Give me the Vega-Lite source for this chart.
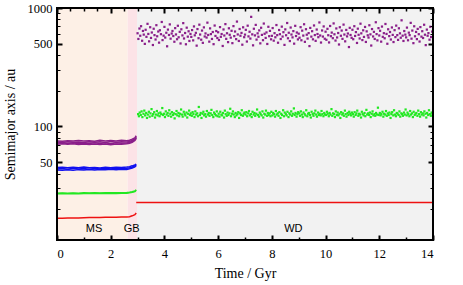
{
  "$schema": "https://vega.github.io/schema/vega-lite/v6.json",
  "width": 376,
  "height": 232,
  "autosize": {"type": "none"},
  "padding": {"left": 57, "top": 8, "right": 30, "bottom": 45},
  "background": "white",
  "config": {
    "view": {"stroke": null},
    "axis": {"domain": false, "grid": false, "ticks": true, "tickColor": "black", "labelColor": "black", "labelFont": "Liberation Serif", "labelFontSize": 12.5, "titleFont": "Liberation Serif", "titleFontSize": 14, "titleFontWeight": "normal", "titleColor": "black"}
  },
  "resolve": {"axis": {"x": "independent", "y": "independent"}, "scale": {"color": "independent"}},
  "datasets": {
    "phases": [
      {"phase": "MS", "t0": 0, "t1": 2.63},
      {"phase": "GB", "t0": 2.63, "t1": 2.98},
      {"phase": "WD", "t0": 2.98, "t1": 14}
    ],
    "labels": [
      {"t": 1.38, "a": 13.6, "l": "MS"},
      {"t": 2.78, "a": 13.6, "l": "GB"},
      {"t": 8.8, "a": 13.6, "l": "WD"}
    ],
    "wdred": [{"t": 2.95, "a": 22.8}, {"t": 14, "a": 22.8}],
    "ms": [
      {"o":"o4","k":"p1","t":0,"a":73.8},{"o":"o4","k":"p1","t":0.2,"a":73.2},{"o":"o4","k":"p1","t":0.4,"a":74.3},{"o":"o4","k":"p1","t":0.6,"a":73.5},{"o":"o4","k":"p1","t":0.8,"a":74.0},{"o":"o4","k":"p1","t":1.0,"a":73.1},{"o":"o4","k":"p1","t":1.2,"a":74.4},{"o":"o4","k":"p1","t":1.4,"a":73.6},{"o":"o4","k":"p1","t":1.6,"a":74.2},{"o":"o4","k":"p1","t":1.8,"a":73.3},{"o":"o4","k":"p1","t":2.0,"a":74.5},{"o":"o4","k":"p1","t":2.2,"a":73.7},{"o":"o4","k":"p1","t":2.4,"a":74.1},{"o":"o4","k":"p1","t":2.6,"a":73.9},{"o":"o4","k":"p1","t":2.7,"a":74.6},{"o":"o4","k":"p1","t":2.8,"a":76.0},{"o":"o4","k":"p1","t":2.9,"a":78.5},{"o":"o4","k":"p1","t":2.95,"a":82.0},
      {"o":"o4","k":"p2","t":0,"a":72.0},{"o":"o4","k":"p2","t":0.2,"a":72.7},{"o":"o4","k":"p2","t":0.4,"a":71.8},{"o":"o4","k":"p2","t":0.6,"a":72.9},{"o":"o4","k":"p2","t":0.8,"a":71.6},{"o":"o4","k":"p2","t":1.0,"a":72.6},{"o":"o4","k":"p2","t":1.2,"a":71.9},{"o":"o4","k":"p2","t":1.4,"a":73.0},{"o":"o4","k":"p2","t":1.6,"a":71.7},{"o":"o4","k":"p2","t":1.8,"a":72.8},{"o":"o4","k":"p2","t":2.0,"a":71.5},{"o":"o4","k":"p2","t":2.2,"a":72.9},{"o":"o4","k":"p2","t":2.4,"a":72.2},{"o":"o4","k":"p2","t":2.6,"a":72.6},{"o":"o4","k":"p2","t":2.7,"a":73.2},{"o":"o4","k":"p2","t":2.8,"a":74.8},{"o":"o4","k":"p2","t":2.9,"a":77.2},{"o":"o4","k":"p2","t":2.95,"a":80.5},
      {"o":"o4","k":"p3","t":0,"a":75.4},{"o":"o4","k":"p3","t":0.2,"a":75.0},{"o":"o4","k":"p3","t":0.4,"a":75.9},{"o":"o4","k":"p3","t":0.6,"a":75.2},{"o":"o4","k":"p3","t":0.8,"a":76.1},{"o":"o4","k":"p3","t":1.0,"a":75.3},{"o":"o4","k":"p3","t":1.2,"a":75.8},{"o":"o4","k":"p3","t":1.4,"a":75.1},{"o":"o4","k":"p3","t":1.6,"a":76.3},{"o":"o4","k":"p3","t":1.8,"a":75.5},{"o":"o4","k":"p3","t":2.0,"a":76.0},{"o":"o4","k":"p3","t":2.2,"a":75.2},{"o":"o4","k":"p3","t":2.4,"a":76.4},{"o":"o4","k":"p3","t":2.6,"a":75.8},{"o":"o4","k":"p3","t":2.7,"a":76.5},{"o":"o4","k":"p3","t":2.8,"a":78.0},{"o":"o4","k":"p3","t":2.9,"a":80.2},{"o":"o4","k":"p3","t":2.95,"a":83.5},
      {"o":"o4","k":"p4","t":0,"a":70.9},{"o":"o4","k":"p4","t":0.2,"a":71.4},{"o":"o4","k":"p4","t":0.4,"a":70.7},{"o":"o4","k":"p4","t":0.6,"a":71.3},{"o":"o4","k":"p4","t":0.8,"a":70.5},{"o":"o4","k":"p4","t":1.0,"a":71.2},{"o":"o4","k":"p4","t":1.2,"a":70.4},{"o":"o4","k":"p4","t":1.4,"a":71.1},{"o":"o4","k":"p4","t":1.6,"a":70.3},{"o":"o4","k":"p4","t":1.8,"a":71.2},{"o":"o4","k":"p4","t":2.0,"a":70.2},{"o":"o4","k":"p4","t":2.2,"a":71.0},{"o":"o4","k":"p4","t":2.4,"a":70.6},{"o":"o4","k":"p4","t":2.6,"a":71.3},{"o":"o4","k":"p4","t":2.7,"a":72.0},{"o":"o4","k":"p4","t":2.8,"a":73.6},{"o":"o4","k":"p4","t":2.9,"a":76.2},{"o":"o4","k":"p4","t":2.95,"a":79.5},
      {"o":"o3","k":"b1","t":0,"a":43.8},{"o":"o3","k":"b1","t":0.2,"a":44.2},{"o":"o3","k":"b1","t":0.4,"a":43.6},{"o":"o3","k":"b1","t":0.6,"a":44.3},{"o":"o3","k":"b1","t":0.8,"a":43.7},{"o":"o3","k":"b1","t":1.0,"a":44.1},{"o":"o3","k":"b1","t":1.2,"a":43.5},{"o":"o3","k":"b1","t":1.4,"a":44.2},{"o":"o3","k":"b1","t":1.6,"a":43.8},{"o":"o3","k":"b1","t":1.8,"a":44.4},{"o":"o3","k":"b1","t":2.0,"a":43.7},{"o":"o3","k":"b1","t":2.2,"a":44.3},{"o":"o3","k":"b1","t":2.4,"a":43.9},{"o":"o3","k":"b1","t":2.6,"a":44.4},{"o":"o3","k":"b1","t":2.7,"a":44.8},{"o":"o3","k":"b1","t":2.8,"a":45.5},{"o":"o3","k":"b1","t":2.9,"a":46.4},{"o":"o3","k":"b1","t":2.95,"a":47.5},
      {"o":"o3","k":"b2","t":0,"a":42.9},{"o":"o3","k":"b2","t":0.2,"a":42.6},{"o":"o3","k":"b2","t":0.4,"a":43.1},{"o":"o3","k":"b2","t":0.6,"a":42.7},{"o":"o3","k":"b2","t":0.8,"a":43.2},{"o":"o3","k":"b2","t":1.0,"a":42.8},{"o":"o3","k":"b2","t":1.2,"a":43.3},{"o":"o3","k":"b2","t":1.4,"a":42.9},{"o":"o3","k":"b2","t":1.6,"a":43.4},{"o":"o3","k":"b2","t":1.8,"a":43.0},{"o":"o3","k":"b2","t":2.0,"a":43.5},{"o":"o3","k":"b2","t":2.2,"a":43.1},{"o":"o3","k":"b2","t":2.4,"a":43.6},{"o":"o3","k":"b2","t":2.6,"a":43.4},{"o":"o3","k":"b2","t":2.7,"a":43.9},{"o":"o3","k":"b2","t":2.8,"a":44.6},{"o":"o3","k":"b2","t":2.9,"a":45.6},{"o":"o3","k":"b2","t":2.95,"a":46.8},
      {"o":"o3","k":"b3","t":0,"a":45.0},{"o":"o3","k":"b3","t":0.2,"a":45.3},{"o":"o3","k":"b3","t":0.4,"a":44.8},{"o":"o3","k":"b3","t":0.6,"a":45.2},{"o":"o3","k":"b3","t":0.8,"a":44.9},{"o":"o3","k":"b3","t":1.0,"a":45.4},{"o":"o3","k":"b3","t":1.2,"a":44.9},{"o":"o3","k":"b3","t":1.4,"a":45.1},{"o":"o3","k":"b3","t":1.6,"a":44.7},{"o":"o3","k":"b3","t":1.8,"a":45.2},{"o":"o3","k":"b3","t":2.0,"a":44.8},{"o":"o3","k":"b3","t":2.2,"a":45.3},{"o":"o3","k":"b3","t":2.4,"a":45.0},{"o":"o3","k":"b3","t":2.6,"a":45.4},{"o":"o3","k":"b3","t":2.7,"a":45.8},{"o":"o3","k":"b3","t":2.8,"a":46.5},{"o":"o3","k":"b3","t":2.9,"a":47.3},{"o":"o3","k":"b3","t":2.95,"a":48.2},
      {"o":"o2","k":"g1","t":0,"a":27.3},{"o":"o2","k":"g1","t":0.2,"a":27.4},{"o":"o2","k":"g1","t":0.4,"a":27.3},{"o":"o2","k":"g1","t":0.6,"a":27.4},{"o":"o2","k":"g1","t":0.8,"a":27.3},{"o":"o2","k":"g1","t":1.0,"a":27.5},{"o":"o2","k":"g1","t":1.2,"a":27.4},{"o":"o2","k":"g1","t":1.4,"a":27.5},{"o":"o2","k":"g1","t":1.6,"a":27.4},{"o":"o2","k":"g1","t":1.8,"a":27.5},{"o":"o2","k":"g1","t":2.0,"a":27.5},{"o":"o2","k":"g1","t":2.2,"a":27.6},{"o":"o2","k":"g1","t":2.4,"a":27.6},{"o":"o2","k":"g1","t":2.6,"a":27.7},{"o":"o2","k":"g1","t":2.7,"a":27.8},{"o":"o2","k":"g1","t":2.8,"a":28.1},{"o":"o2","k":"g1","t":2.9,"a":28.5},{"o":"o2","k":"g1","t":2.95,"a":29.2},
      {"o":"o2","k":"g2","t":0,"a":27.0},{"o":"o2","k":"g2","t":0.2,"a":27.1},{"o":"o2","k":"g2","t":0.4,"a":27.0},{"o":"o2","k":"g2","t":0.6,"a":27.1},{"o":"o2","k":"g2","t":0.8,"a":27.0},{"o":"o2","k":"g2","t":1.0,"a":27.1},{"o":"o2","k":"g2","t":1.2,"a":27.1},{"o":"o2","k":"g2","t":1.4,"a":27.2},{"o":"o2","k":"g2","t":1.6,"a":27.1},{"o":"o2","k":"g2","t":1.8,"a":27.2},{"o":"o2","k":"g2","t":2.0,"a":27.2},{"o":"o2","k":"g2","t":2.2,"a":27.2},{"o":"o2","k":"g2","t":2.4,"a":27.3},{"o":"o2","k":"g2","t":2.6,"a":27.3},{"o":"o2","k":"g2","t":2.7,"a":27.5},{"o":"o2","k":"g2","t":2.8,"a":27.8},{"o":"o2","k":"g2","t":2.9,"a":28.2},{"o":"o2","k":"g2","t":2.95,"a":28.9},
      {"o":"o1","k":"r1","t":0,"a":16.8},{"o":"o1","k":"r1","t":0.2,"a":16.8},{"o":"o1","k":"r1","t":0.4,"a":16.85},{"o":"o1","k":"r1","t":0.6,"a":16.9},{"o":"o1","k":"r1","t":0.8,"a":16.9},{"o":"o1","k":"r1","t":1.0,"a":16.95},{"o":"o1","k":"r1","t":1.2,"a":17.0},{"o":"o1","k":"r1","t":1.4,"a":17.0},{"o":"o1","k":"r1","t":1.6,"a":17.05},{"o":"o1","k":"r1","t":1.8,"a":17.1},{"o":"o1","k":"r1","t":2.0,"a":17.1},{"o":"o1","k":"r1","t":2.2,"a":17.15},{"o":"o1","k":"r1","t":2.4,"a":17.2},{"o":"o1","k":"r1","t":2.6,"a":17.2},{"o":"o1","k":"r1","t":2.7,"a":17.3},{"o":"o1","k":"r1","t":2.8,"a":17.6},{"o":"o1","k":"r1","t":2.9,"a":18.0},{"o":"o1","k":"r1","t":2.95,"a":18.6}
    ],
    "purple": [
      {"t":3.00,"a":612},{"t":3.03,"a":548},{"t":3.07,"a":671},{"t":3.10,"a":583},{"t":3.13,"a":702},{"t":3.17,"a":529},{"t":3.20,"a":640},{"t":3.23,"a":596},{"t":3.27,"a":498},{"t":3.30,"a":655},{"t":3.33,"a":571},{"t":3.37,"a":735},{"t":3.40,"a":604},{"t":3.43,"a":523},{"t":3.47,"a":688},{"t":3.50,"a":559},{"t":3.53,"a":621},{"t":3.57,"a":487},{"t":3.60,"a":668},{"t":3.63,"a":590},{"t":3.67,"a":542},{"t":3.70,"a":716},{"t":3.73,"a":577},{"t":3.77,"a":633},{"t":3.80,"a":510},{"t":3.83,"a":649},{"t":3.87,"a":601},{"t":3.90,"a":762},{"t":3.93,"a":536},{"t":3.97,"a":584},
      {"t":4.00,"a":693},{"t":4.03,"a":563},{"t":4.07,"a":618},{"t":4.10,"a":475},{"t":4.13,"a":657},{"t":4.17,"a":592},{"t":4.20,"a":727},{"t":4.23,"a":551},{"t":4.27,"a":609},{"t":4.30,"a":640},{"t":4.33,"a":580},{"t":4.37,"a":519},{"t":4.40,"a":676},{"t":4.43,"a":598},{"t":4.47,"a":545},{"t":4.50,"a":708},{"t":4.53,"a":566},{"t":4.57,"a":629},{"t":4.60,"a":502},{"t":4.63,"a":661},{"t":4.67,"a":587},{"t":4.70,"a":745},{"t":4.73,"a":553},{"t":4.77,"a":615},{"t":4.80,"a":494},{"t":4.83,"a":682},{"t":4.87,"a":573},{"t":4.90,"a":636},{"t":4.93,"a":527},{"t":4.97,"a":604},
      {"t":5.00,"a":570},{"t":5.03,"a":651},{"t":5.07,"a":533},{"t":5.10,"a":699},{"t":5.13,"a":588},{"t":5.17,"a":617},{"t":5.20,"a":481},{"t":5.23,"a":664},{"t":5.27,"a":556},{"t":5.30,"a":723},{"t":5.33,"a":597},{"t":5.37,"a":540},{"t":5.40,"a":645},{"t":5.43,"a":508},{"t":5.47,"a":686},{"t":5.50,"a":575},{"t":5.53,"a":610},{"t":5.57,"a":563},{"t":5.60,"a":752},{"t":5.63,"a":592},{"t":5.67,"a":520},{"t":5.70,"a":673},{"t":5.73,"a":602},{"t":5.77,"a":548},{"t":5.80,"a":627},{"t":5.83,"a":495},{"t":5.87,"a":711},{"t":5.90,"a":581},{"t":5.93,"a":639},{"t":5.97,"a":558},
      {"t":6.00,"a":624},{"t":6.03,"a":537},{"t":6.07,"a":690},{"t":6.10,"a":571},{"t":6.13,"a":603},{"t":6.17,"a":478},{"t":6.20,"a":659},{"t":6.23,"a":586},{"t":6.27,"a":731},{"t":6.30,"a":549},{"t":6.33,"a":612},{"t":6.37,"a":515},{"t":6.40,"a":674},{"t":6.43,"a":594},{"t":6.47,"a":562},{"t":6.50,"a":642},{"t":6.53,"a":505},{"t":6.57,"a":703},{"t":6.60,"a":579},{"t":6.63,"a":633},{"t":6.67,"a":546},{"t":6.70,"a":768},{"t":6.73,"a":598},{"t":6.77,"a":527},{"t":6.80,"a":665},{"t":6.83,"a":583},{"t":6.87,"a":616},{"t":6.90,"a":490},{"t":6.93,"a":687},{"t":6.97,"a":567},
      {"t":7.00,"a":596},{"t":7.03,"a":654},{"t":7.07,"a":521},{"t":7.10,"a":709},{"t":7.13,"a":576},{"t":7.17,"a":630},{"t":7.20,"a":552},{"t":7.23,"a":842},{"t":7.27,"a":599},{"t":7.30,"a":484},{"t":7.33,"a":668},{"t":7.37,"a":587},{"t":7.40,"a":720},{"t":7.43,"a":541},{"t":7.47,"a":611},{"t":7.50,"a":572},{"t":7.53,"a":647},{"t":7.57,"a":503},{"t":7.60,"a":681},{"t":7.63,"a":593},{"t":7.67,"a":535},{"t":7.70,"a":739},{"t":7.73,"a":606},{"t":7.77,"a":559},{"t":7.80,"a":622},{"t":7.83,"a":497},{"t":7.87,"a":694},{"t":7.90,"a":578},{"t":7.93,"a":641},{"t":7.97,"a":544},
      {"t":8.00,"a":582},{"t":8.03,"a":677},{"t":8.07,"a":530},{"t":8.10,"a":613},{"t":8.13,"a":566},{"t":8.17,"a":718},{"t":8.20,"a":590},{"t":8.23,"a":509},{"t":8.27,"a":652},{"t":8.30,"a":601},{"t":8.33,"a":547},{"t":8.37,"a":696},{"t":8.40,"a":574},{"t":8.43,"a":625},{"t":8.47,"a":488},{"t":8.50,"a":660},{"t":8.53,"a":589},{"t":8.57,"a":747},{"t":8.60,"a":555},{"t":8.63,"a":618},{"t":8.67,"a":526},{"t":8.70,"a":684},{"t":8.73,"a":597},{"t":8.77,"a":565},{"t":8.80,"a":638},{"t":8.83,"a":500},{"t":8.87,"a":707},{"t":8.90,"a":580},{"t":8.93,"a":621},{"t":8.97,"a":543},
      {"t":9.00,"a":607},{"t":9.03,"a":561},{"t":9.07,"a":689},{"t":9.10,"a":534},{"t":9.13,"a":644},{"t":9.17,"a":585},{"t":9.20,"a":729},{"t":9.23,"a":518},{"t":9.27,"a":662},{"t":9.30,"a":595},{"t":9.33,"a":552},{"t":9.37,"a":614},{"t":9.40,"a":477},{"t":9.43,"a":679},{"t":9.47,"a":573},{"t":9.50,"a":637},{"t":9.53,"a":544},{"t":9.57,"a":712},{"t":9.60,"a":591},{"t":9.63,"a":528},{"t":9.67,"a":658},{"t":9.70,"a":603},{"t":9.73,"a":567},{"t":9.77,"a":755},{"t":9.80,"a":586},{"t":9.83,"a":511},{"t":9.87,"a":646},{"t":9.90,"a":574},{"t":9.93,"a":699},{"t":9.97,"a":550},
      {"t":10.00,"a":631},{"t":10.03,"a":539},{"t":10.07,"a":667},{"t":10.10,"a":589},{"t":10.13,"a":512},{"t":10.17,"a":705},{"t":10.20,"a":578},{"t":10.23,"a":620},{"t":10.27,"a":556},{"t":10.30,"a":741},{"t":10.33,"a":600},{"t":10.37,"a":531},{"t":10.40,"a":672},{"t":10.43,"a":564},{"t":10.47,"a":615},{"t":10.50,"a":492},{"t":10.53,"a":688},{"t":10.57,"a":583},{"t":10.60,"a":645},{"t":10.63,"a":549},{"t":10.67,"a":724},{"t":10.70,"a":597},{"t":10.73,"a":523},{"t":10.77,"a":653},{"t":10.80,"a":576},{"t":10.83,"a":609},{"t":10.87,"a":468},{"t":10.90,"a":680},{"t":10.93,"a":592},{"t":10.97,"a":560},
      {"t":11.00,"a":655},{"t":11.03,"a":545},{"t":11.07,"a":702},{"t":11.10,"a":581},{"t":11.13,"a":626},{"t":11.17,"a":507},{"t":11.20,"a":669},{"t":11.23,"a":594},{"t":11.27,"a":553},{"t":11.30,"a":737},{"t":11.33,"a":611},{"t":11.37,"a":536},{"t":11.40,"a":648},{"t":11.43,"a":570},{"t":11.47,"a":692},{"t":11.50,"a":517},{"t":11.53,"a":635},{"t":11.57,"a":588},{"t":11.60,"a":563},{"t":11.63,"a":715},{"t":11.67,"a":599},{"t":11.70,"a":482},{"t":11.73,"a":664},{"t":11.77,"a":575},{"t":11.80,"a":629},{"t":11.83,"a":548},{"t":11.87,"a":758},{"t":11.90,"a":602},{"t":11.93,"a":533},{"t":11.97,"a":676},
      {"t":12.00,"a":586},{"t":12.03,"a":642},{"t":12.07,"a":520},{"t":12.10,"a":697},{"t":12.13,"a":571},{"t":12.17,"a":613},{"t":12.20,"a":555},{"t":12.23,"a":733},{"t":12.27,"a":604},{"t":12.30,"a":499},{"t":12.33,"a":661},{"t":12.37,"a":579},{"t":12.40,"a":627},{"t":12.43,"a":542},{"t":12.47,"a":685},{"t":12.50,"a":593},{"t":12.53,"a":516},{"t":12.57,"a":650},{"t":12.60,"a":568},{"t":12.63,"a":710},{"t":12.67,"a":590},{"t":12.70,"a":538},{"t":12.73,"a":674},{"t":12.77,"a":611},{"t":12.80,"a":561},{"t":12.83,"a":787},{"t":12.87,"a":584},{"t":12.90,"a":527},{"t":12.93,"a":639},{"t":12.97,"a":596},
      {"t":13.00,"a":565},{"t":13.03,"a":683},{"t":13.07,"a":534},{"t":13.10,"a":619},{"t":13.13,"a":590},{"t":13.17,"a":749},{"t":13.20,"a":551},{"t":13.23,"a":645},{"t":13.27,"a":505},{"t":13.30,"a":701},{"t":13.33,"a":577},{"t":13.37,"a":628},{"t":13.40,"a":546},{"t":13.43,"a":666},{"t":13.47,"a":601},{"t":13.50,"a":521},{"t":13.53,"a":690},{"t":13.57,"a":573},{"t":13.60,"a":637},{"t":13.63,"a":558},{"t":13.67,"a":722},{"t":13.70,"a":595},{"t":13.73,"a":486},{"t":13.77,"a":657},{"t":13.80,"a":583},{"t":13.83,"a":614},{"t":13.87,"a":540},{"t":13.90,"a":694},{"t":13.93,"a":569},{"t":13.97,"a":632}
    ],
    "green": [
      {"t":3.02,"a":127},{"t":3.05,"a":122},{"t":3.08,"a":131},{"t":3.12,"a":125},{"t":3.15,"a":134},{"t":3.18,"a":120},{"t":3.22,"a":128},{"t":3.25,"a":136},{"t":3.28,"a":124},{"t":3.32,"a":130},{"t":3.35,"a":118},{"t":3.38,"a":126},{"t":3.42,"a":133},{"t":3.45,"a":121},{"t":3.48,"a":129},{"t":3.52,"a":140},{"t":3.55,"a":123},{"t":3.58,"a":127},{"t":3.62,"a":132},{"t":3.65,"a":119},{"t":3.68,"a":126},{"t":3.72,"a":135},{"t":3.75,"a":124},{"t":3.78,"a":129},{"t":3.82,"a":122},{"t":3.85,"a":131},{"t":3.88,"a":127},{"t":3.92,"a":143},{"t":3.95,"a":125},{"t":3.98,"a":128},
      {"t":4.02,"a":120},{"t":4.05,"a":134},{"t":4.08,"a":126},{"t":4.12,"a":130},{"t":4.15,"a":123},{"t":4.18,"a":137},{"t":4.22,"a":128},{"t":4.25,"a":121},{"t":4.28,"a":132},{"t":4.32,"a":125},{"t":4.35,"a":129},{"t":4.38,"a":117},{"t":4.42,"a":127},{"t":4.45,"a":135},{"t":4.48,"a":124},{"t":4.52,"a":130},{"t":4.55,"a":122},{"t":4.58,"a":128},{"t":4.62,"a":139},{"t":4.65,"a":126},{"t":4.68,"a":121},{"t":4.72,"a":133},{"t":4.75,"a":127},{"t":4.78,"a":124},{"t":4.82,"a":131},{"t":4.85,"a":119},{"t":4.88,"a":128},{"t":4.92,"a":136},{"t":4.95,"a":125},{"t":4.98,"a":129},
      {"t":5.02,"a":123},{"t":5.05,"a":132},{"t":5.08,"a":127},{"t":5.12,"a":120},{"t":5.15,"a":134},{"t":5.18,"a":126},{"t":5.22,"a":129},{"t":5.25,"a":122},{"t":5.28,"a":146},{"t":5.32,"a":125},{"t":5.35,"a":130},{"t":5.38,"a":118},{"t":5.42,"a":128},{"t":5.45,"a":133},{"t":5.48,"a":124},{"t":5.52,"a":127},{"t":5.55,"a":121},{"t":5.58,"a":135},{"t":5.62,"a":126},{"t":5.65,"a":130},{"t":5.68,"a":123},{"t":5.72,"a":129},{"t":5.75,"a":138},{"t":5.78,"a":125},{"t":5.82,"a":120},{"t":5.85,"a":131},{"t":5.88,"a":127},{"t":5.92,"a":124},{"t":5.95,"a":134},{"t":5.98,"a":122},
      {"t":6.02,"a":128},{"t":6.05,"a":121},{"t":6.08,"a":133},{"t":6.12,"a":126},{"t":6.15,"a":124},{"t":6.18,"a":130},{"t":6.22,"a":119},{"t":6.25,"a":136},{"t":6.28,"a":127},{"t":6.32,"a":123},{"t":6.35,"a":131},{"t":6.38,"a":125},{"t":6.42,"a":129},{"t":6.45,"a":141},{"t":6.48,"a":122},{"t":6.52,"a":128},{"t":6.55,"a":134},{"t":6.58,"a":126},{"t":6.62,"a":120},{"t":6.65,"a":130},{"t":6.68,"a":124},{"t":6.72,"a":127},{"t":6.75,"a":132},{"t":6.78,"a":118},{"t":6.82,"a":129},{"t":6.85,"a":125},{"t":6.88,"a":137},{"t":6.92,"a":123},{"t":6.95,"a":128},{"t":6.98,"a":131},
      {"t":7.02,"a":126},{"t":7.05,"a":132},{"t":7.08,"a":122},{"t":7.12,"a":129},{"t":7.15,"a":135},{"t":7.18,"a":124},{"t":7.22,"a":127},{"t":7.25,"a":120},{"t":7.28,"a":133},{"t":7.32,"a":126},{"t":7.35,"a":130},{"t":7.38,"a":123},{"t":7.42,"a":128},{"t":7.45,"a":139},{"t":7.48,"a":125},{"t":7.52,"a":121},{"t":7.55,"a":131},{"t":7.58,"a":127},{"t":7.62,"a":124},{"t":7.65,"a":134},{"t":7.68,"a":119},{"t":7.72,"a":128},{"t":7.75,"a":126},{"t":7.78,"a":136},{"t":7.82,"a":123},{"t":7.85,"a":130},{"t":7.88,"a":125},{"t":7.92,"a":129},{"t":7.95,"a":122},{"t":7.98,"a":133},
      {"t":8.02,"a":124},{"t":8.05,"a":130},{"t":8.08,"a":127},{"t":8.12,"a":121},{"t":8.15,"a":135},{"t":8.18,"a":126},{"t":8.22,"a":129},{"t":8.25,"a":123},{"t":8.28,"a":132},{"t":8.32,"a":118},{"t":8.35,"a":128},{"t":8.38,"a":125},{"t":8.42,"a":137},{"t":8.45,"a":122},{"t":8.48,"a":131},{"t":8.52,"a":127},{"t":8.55,"a":124},{"t":8.58,"a":133},{"t":8.62,"a":120},{"t":8.65,"a":129},{"t":8.68,"a":126},{"t":8.72,"a":134},{"t":8.75,"a":123},{"t":8.78,"a":128},{"t":8.82,"a":142},{"t":8.85,"a":125},{"t":8.88,"a":130},{"t":8.92,"a":121},{"t":8.95,"a":127},{"t":8.98,"a":132},
      {"t":9.02,"a":129},{"t":9.05,"a":123},{"t":9.08,"a":134},{"t":9.12,"a":126},{"t":9.15,"a":120},{"t":9.18,"a":131},{"t":9.22,"a":127},{"t":9.25,"a":124},{"t":9.28,"a":137},{"t":9.32,"a":122},{"t":9.35,"a":128},{"t":9.38,"a":130},{"t":9.42,"a":125},{"t":9.45,"a":119},{"t":9.48,"a":133},{"t":9.52,"a":127},{"t":9.55,"a":123},{"t":9.58,"a":129},{"t":9.62,"a":136},{"t":9.65,"a":126},{"t":9.68,"a":121},{"t":9.72,"a":131},{"t":9.75,"a":125},{"t":9.78,"a":128},{"t":9.82,"a":124},{"t":9.85,"a":135},{"t":9.88,"a":127},{"t":9.92,"a":122},{"t":9.95,"a":130},{"t":9.98,"a":126},
      {"t":10.02,"a":125},{"t":10.05,"a":133},{"t":10.08,"a":128},{"t":10.12,"a":122},{"t":10.15,"a":130},{"t":10.18,"a":126},{"t":10.22,"a":140},{"t":10.25,"a":123},{"t":10.28,"a":129},{"t":10.32,"a":127},{"t":10.35,"a":120},{"t":10.38,"a":134},{"t":10.42,"a":125},{"t":10.45,"a":131},{"t":10.48,"a":124},{"t":10.52,"a":128},{"t":10.55,"a":118},{"t":10.58,"a":132},{"t":10.62,"a":126},{"t":10.65,"a":129},{"t":10.68,"a":123},{"t":10.72,"a":136},{"t":10.75,"a":127},{"t":10.78,"a":121},{"t":10.82,"a":130},{"t":10.85,"a":125},{"t":10.88,"a":133},{"t":10.92,"a":128},{"t":10.95,"a":124},{"t":10.98,"a":131},
      {"t":11.02,"a":127},{"t":11.05,"a":121},{"t":11.08,"a":132},{"t":11.12,"a":125},{"t":11.15,"a":129},{"t":11.18,"a":136},{"t":11.22,"a":123},{"t":11.25,"a":128},{"t":11.28,"a":126},{"t":11.32,"a":119},{"t":11.35,"a":133},{"t":11.38,"a":127},{"t":11.42,"a":124},{"t":11.45,"a":130},{"t":11.48,"a":122},{"t":11.52,"a":138},{"t":11.55,"a":126},{"t":11.58,"a":129},{"t":11.62,"a":125},{"t":11.65,"a":131},{"t":11.68,"a":120},{"t":11.72,"a":128},{"t":11.75,"a":134},{"t":11.78,"a":124},{"t":11.82,"a":127},{"t":11.85,"a":123},{"t":11.88,"a":130},{"t":11.92,"a":126},{"t":11.95,"a":144},{"t":11.98,"a":125},
      {"t":12.02,"a":130},{"t":12.05,"a":124},{"t":12.08,"a":127},{"t":12.12,"a":133},{"t":12.15,"a":121},{"t":12.18,"a":128},{"t":12.22,"a":126},{"t":12.25,"a":135},{"t":12.28,"a":123},{"t":12.32,"a":129},{"t":12.35,"a":125},{"t":12.38,"a":131},{"t":12.42,"a":118},{"t":12.45,"a":127},{"t":12.48,"a":132},{"t":12.52,"a":124},{"t":12.55,"a":137},{"t":12.58,"a":126},{"t":12.62,"a":122},{"t":12.65,"a":130},{"t":12.68,"a":128},{"t":12.72,"a":125},{"t":12.75,"a":134},{"t":12.78,"a":121},{"t":12.82,"a":129},{"t":12.85,"a":127},{"t":12.88,"a":123},{"t":12.92,"a":131},{"t":12.95,"a":126},{"t":12.98,"a":139},
      {"t":13.02,"a":124},{"t":13.05,"a":131},{"t":13.08,"a":127},{"t":13.12,"a":122},{"t":13.15,"a":135},{"t":13.18,"a":126},{"t":13.22,"a":129},{"t":13.25,"a":120},{"t":13.28,"a":133},{"t":13.32,"a":125},{"t":13.35,"a":128},{"t":13.38,"a":130},{"t":13.42,"a":123},{"t":13.45,"a":136},{"t":13.48,"a":127},{"t":13.52,"a":121},{"t":13.55,"a":132},{"t":13.58,"a":126},{"t":13.62,"a":129},{"t":13.65,"a":124},{"t":13.68,"a":134},{"t":13.72,"a":128},{"t":13.75,"a":119},{"t":13.78,"a":130},{"t":13.82,"a":125},{"t":13.85,"a":137},{"t":13.88,"a":127},{"t":13.92,"a":123},{"t":13.95,"a":131},{"t":13.98,"a":128}
    ]
  },
  "layer": [
    {
      "data": {"name": "phases"},
      "mark": {"type": "rect"},
      "encoding": {
        "x": {"field": "t0", "type": "quantitative", "scale": {"domain": [0, 14], "nice": false, "zero": false}, "axis": null},
        "x2": {"field": "t1"},
        "color": {"field": "phase", "type": "nominal", "scale": {"domain": ["MS", "GB", "WD"], "range": ["#fdf0e6", "#fce3e7", "#f2f2f2"]}, "legend": null}
      }
    },
    {
      "data": {"name": "ms"},
      "mark": {"type": "line", "strokeWidth": 1.5},
      "encoding": {
        "x": {"field": "t", "type": "quantitative", "scale": {"domain": [0, 14], "nice": false, "zero": false},
              "axis": {"orient": "bottom", "values": [0, 0.5, 1, 1.5, 2, 2.5, 3, 3.5, 4, 4.5, 5, 5.5, 6, 6.5, 7, 7.5, 8, 8.5, 9, 9.5, 10, 10.5, 11, 11.5, 12, 12.5, 13, 13.5, 14],
                       "format": "d",
                       "labelExpr": "datum.value % 2 === 0 ? datum.label : ''",
                       "tickSize": {"condition": {"test": "datum.value % 2 === 0", "value": -5}, "value": -3},
                       "tickWidth": {"condition": {"test": "datum.value % 2 === 0", "value": 2}, "value": 1.5},
                       "labelPadding": 12, "title": "Time / Gyr", "titlePadding": 7, "zindex": 5}},
        "y": {"field": "a", "type": "quantitative", "scale": {"type": "log", "domain": [11, 1000], "nice": false},
              "axis": {"orient": "left", "values": [20, 30, 40, 50, 60, 70, 80, 90, 100, 200, 300, 400, 500, 600, 700, 800, 900, 1000], "format": "d",
                       "labelExpr": "indexof([50, 100, 500, 1000], datum.value) >= 0 ? datum.label : ''",
                       "tickSize": {"condition": {"test": "indexof([50, 100, 500, 1000], datum.value) >= 0", "value": -5}, "value": -3},
                       "tickWidth": {"condition": {"test": "indexof([50, 100, 500, 1000], datum.value) >= 0", "value": 2}, "value": 1},
                       "labelPadding": 10, "title": "Semimajor axis / au", "titlePadding": 10, "zindex": 5}},
        "detail": {"field": "k"},
        "color": {"field": "o", "type": "nominal", "scale": {"domain": ["o1", "o2", "o3", "o4"], "range": ["#ee1111", "#22e822", "#1010f0", "#8a1f8a"]}, "legend": null}
      }
    },
    {
      "data": {"name": "wdred"},
      "mark": {"type": "line", "strokeWidth": 1.5, "color": "#ee1111"},
      "encoding": {
        "x": {"field": "t", "type": "quantitative", "axis": null},
        "y": {"field": "a", "type": "quantitative", "axis": null}
      }
    },
    {
      "data": {"name": "purple"},
      "mark": {"type": "point", "shape": "square", "filled": true, "size": 5, "opacity": 1, "color": "#8a1f8a"},
      "encoding": {
        "x": {"field": "t", "type": "quantitative",
              "axis": {"orient": "top", "values": [0, 0.5, 1, 1.5, 2, 2.5, 3, 3.5, 4, 4.5, 5, 5.5, 6, 6.5, 7, 7.5, 8, 8.5, 9, 9.5, 10, 10.5, 11, 11.5, 12, 12.5, 13, 13.5, 14],
                       "tickSize": {"condition": {"test": "datum.value % 2 === 0", "value": -5}, "value": -3},
                       "tickWidth": {"condition": {"test": "datum.value % 2 === 0", "value": 2}, "value": 1.5},
                       "labels": false, "title": null, "zindex": 5}},
        "y": {"field": "a", "type": "quantitative",
              "axis": {"orient": "right", "values": [20, 30, 40, 50, 60, 70, 80, 90, 100, 200, 300, 400, 500, 600, 700, 800, 900, 1000],
                       "tickSize": {"condition": {"test": "indexof([50, 100, 500, 1000], datum.value) >= 0", "value": -5}, "value": -3},
                       "tickWidth": {"condition": {"test": "indexof([50, 100, 500, 1000], datum.value) >= 0", "value": 2}, "value": 1},
                       "labels": false, "title": null, "zindex": 5}}
      }
    },
    {
      "data": {"name": "green"},
      "mark": {"type": "point", "shape": "square", "filled": true, "size": 5, "opacity": 1, "color": "#22e822"},
      "encoding": {
        "x": {"field": "t", "type": "quantitative", "axis": null},
        "y": {"field": "a", "type": "quantitative", "axis": null}
      }
    },
    {
      "data": {"name": "labels"},
      "mark": {"type": "text", "font": "Liberation Sans", "fontSize": 11, "color": "black", "baseline": "middle", "align": "center"},
      "encoding": {
        "x": {"field": "t", "type": "quantitative", "axis": null},
        "y": {"field": "a", "type": "quantitative", "axis": null},
        "text": {"field": "l"}
      }
    },
    {
      "data": {"values": [{}]},
      "mark": {"type": "rect", "filled": false, "fill": null, "stroke": "black", "strokeWidth": 2}
    }
  ]
}
